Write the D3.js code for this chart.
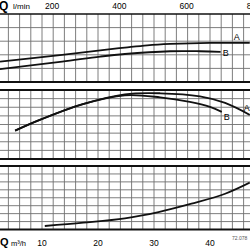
<!DOCTYPE html>
<html>
<head>
<meta charset="utf-8">
<script src="https://cdn.jsdelivr.net/npm/d3@7"></script>
<style>
  html, body { margin: 0; padding: 0; background: #fff; }
  svg { display: block; font-family: "Liberation Sans", Arial, sans-serif; }
</style>
</head>
<body>
<div id="chart"></div>
<script>
// flow in m3/h, values in grid units of each panel
const topTicksLmin = [200, 400, 600, 800];
const bottomTicksM3h = [10, 20, 30, 40];

const topFlowA = [2.5, 13.6, 20.4, 24.8, 28.8, 32.9, 40, 47.1];
const topValA  = [1.5, 2.0, 2.33, 2.53, 2.7, 2.8, 2.88, 2.87];
const topFlowB = [2.5, 13.6, 20.4, 24.8, 32.9, 38.2, 41.9];
const topValB  = [0.94, 1.5, 1.87, 2.06, 2.26, 2.26, 2.22];

const midFlowA = [5.2, 9.6, 17.3, 24.8, 31.1, 38.2, 42.7, 47.1];
const midValA  = [3.29, 4.53, 6.36, 7.5, 7.62, 7.27, 6.51, 5.12];
const midFlowB = [5.2, 9.6, 17.3, 24.8, 31.1, 36.4, 40, 42.1];
const midValB  = [3.29, 4.53, 6.36, 7.38, 7.15, 6.63, 6.05, 5.47];

const botFlow = [10.5, 17.4, 24.8, 30.8, 36.7, 42.7, 47.1];
const botVal  = [0.44, 0.86, 1.41, 2.2, 3.25, 4.5, 5.9];

{
  const W = 250, H = 250;

  const svg = d3.select("#chart")
    .append("svg")
      .attr("width", W)
      .attr("height", H);

  // x in m3/h, and the same axis in l/min for the top labels
  const x = d3.scaleLinear().domain([0, 40]).range([-14, 210]);
  const xl = d3.scaleLinear().domain([0, 800]).range([x(0), x(800 / 16.6667)]);

  const panels = [
    {y0: 14, y1: 82, n: 5, topW: 1.6},
    {y0: 90, y1: 159, n: 8, topW: 2},
    {y0: 166, y1: 229.5, n: 8, topW: 2}
  ];
  panels.forEach(p => {
    p.y = d3.scaleLinear().domain([0, p.n]).range([p.y1, p.y0]);
  });

  const gridX = d3.range(0, 50, 2);

  panels.forEach(p => {
    const g = svg.append("g");
    // vertical grid
    g.selectAll("line.v")
      .data(gridX)
      .join("line")
        .attr("x1", d => x(d)).attr("x2", d => x(d))
        .attr("y1", p.y0).attr("y2", p.y1)
        .attr("stroke", "#6f6f6f").attr("stroke-width", 0.9);
    // horizontal grid
    g.selectAll("line.h")
      .data(d3.range(1, p.n))
      .join("line")
        .attr("x1", 0).attr("x2", W)
        .attr("y1", d => p.y(d)).attr("y2", d => p.y(d))
        .attr("stroke", "#6f6f6f").attr("stroke-width", 0.9);
    // borders
    g.append("line")
      .attr("x1", 0).attr("x2", W)
      .attr("y1", p.y0).attr("y2", p.y0)
      .attr("stroke", "#111").attr("stroke-width", p.topW);
    g.append("line")
      .attr("x1", 0).attr("x2", W)
      .attr("y1", p.y1).attr("y2", p.y1)
      .attr("stroke", "#111").attr("stroke-width", 2);
  });

  function curve(p, xs, vs, w) {
    const pts = xs.map((d, i) => [d, vs[i]]);
    svg.append("path")
      .datum(pts)
      .attr("fill", "none")
      .attr("stroke", "#111")
      .attr("stroke-width", w)
      .attr("d", d3.line()
        .x(d => x(d[0]))
        .y(d => p.y(d[1]))
        .curve(d3.curveCatmullRom));
  }

  curve(panels[0], topFlowA, topValA, 1.8);
  curve(panels[0], topFlowB, topValB, 1.8);
  curve(panels[1], midFlowA, midValA, 1.8);
  curve(panels[1], midFlowB, midValB, 1.8);
  curve(panels[2], botFlow, botVal, 1.8);

  function label(p, xs, vs, txt, dx, dy) {
    const i = xs.length - 1;
    svg.append("text")
      .attr("x", x(xs[i]) + dx)
      .attr("y", p.y(vs[i]) + dy)
      .style("font-size", "9px")
      .text(txt);
  }
  label(panels[0], topFlowA, topValA, "A", -16, -3);
  label(panels[0], topFlowB, topValB, "B", 2, 4);
  label(panels[1], midFlowA, midValA, "A", -6, -4);
  label(panels[1], midFlowB, midValB, "B", 2, 8);

  // top axis labels
  svg.append("text")
    .attr("x", -1).attr("y", 10)
    .style("font-size", "12px").style("font-weight", "bold")
    .text("Q");
  svg.append("text")
    .attr("x", 13).attr("y", 9)
    .style("font-size", "8px")
    .text("l/min");
  svg.selectAll("text.tl")
    .data(topTicksLmin)
    .join("text")
      .attr("x", d => xl(d) - 1)
      .attr("y", 9)
      .attr("text-anchor", "middle")
      .style("font-size", "8.5px")
      .text(d => d);

  // bottom axis labels
  svg.append("text")
    .attr("x", 0).attr("y", 246)
    .style("font-size", "11px").style("font-weight", "bold")
    .text("Q");
  svg.append("text")
    .attr("x", 11).attr("y", 246)
    .style("font-size", "7.5px")
    .text("m³/h");
  svg.selectAll("text.bl")
    .data(bottomTicksM3h)
    .join("text")
      .attr("x", d => x(d))
      .attr("y", 246)
      .attr("text-anchor", "middle")
      .style("font-size", "8.5px")
      .text(d => d);

  svg.append("text")
    .attr("x", 232).attr("y", 240)
    .style("font-size", "5px")
    .attr("fill", "#555")
    .text("72.078");
}
</script>
</body>
</html>
